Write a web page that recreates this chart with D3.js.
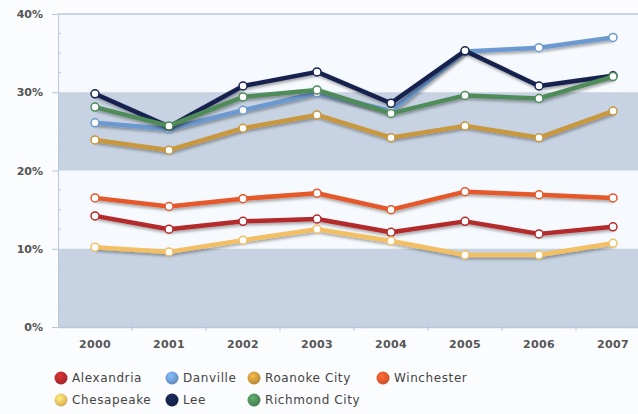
<!DOCTYPE html>
<html>
<head>
<meta charset="utf-8">
<script src="https://cdn.jsdelivr.net/npm/d3@7"></script>
<style>
  body { margin: 0; background: #fbfcfe; }
  text { font-family: "DejaVu Sans", Verdana, sans-serif; }
</style>
</head>
<body>
<div id="chart"></div>
<script>
// data
var years = ["2000", "2001", "2002", "2003", "2004", "2005", "2006", "2007"];
var cities = ["Alexandria", "Danville", "Roanoke City", "Winchester", "Chesapeake", "Lee", "Richmond City"];
var alexandria  = [14.2, 12.5, 13.5, 13.8, 12.1, 13.5, 11.9, 12.8];
var danville    = [26.1, 25.3, 27.7, 29.9, 27.6, 35.2, 35.7, 37.0];
var roanoke     = [23.9, 22.6, 25.4, 27.1, 24.2, 25.7, 24.2, 27.6];
var winchester  = [16.5, 15.4, 16.4, 17.1, 15.0, 17.3, 16.9, 16.5];
var chesapeake  = [10.2,  9.6, 11.1, 12.5, 11.0,  9.2,  9.2, 10.7];
var lee         = [29.8, 25.6, 30.8, 32.6, 28.6, 35.3, 30.8, 32.1];
var richmond    = [28.1, 25.7, 29.4, 30.3, 27.3, 29.6, 29.2, 32.0];
var yTicks = [0, 10, 20, 30, 40];

var seriesValues = [alexandria, danville, roanoke, winchester, chesapeake, lee, richmond];
var colors = ["#b3292b", "#6c9ad0", "#c9973c", "#e4582a", "#f2c064", "#16234d", "#4f8c5a"];

var width = 638, height = 414;
var plotLeft = 58, plotRight = 650, plotTop = 14, plotBottom = 327;

var svg = d3.select("#chart").append("svg")
    .attr("width", width)
    .attr("height", height);

var defs = svg.append("defs");
// schaduw onder de lijnen
var shadow = defs.append("filter").attr("id", "shadow")
    .attr("x", "-10%").attr("y", "-30%").attr("width", "120%").attr("height", "160%");
shadow.append("feDropShadow")
    .attr("dx", 1).attr("dy", 2).attr("stdDeviation", 1.4)
    .attr("flood-color", "#000").attr("flood-opacity", 0.35);

// bolletjes in de legenda met een beetje glans
colors.forEach(function(c, i) {
    var grad = defs.append("radialGradient").attr("id", "dot" + i)
        .attr("cx", "40%").attr("cy", "35%").attr("r", "65%");
    grad.append("stop").attr("offset", "0%").attr("stop-color", d3.color(c).brighter(0.6));
    grad.append("stop").attr("offset", "100%").attr("stop-color", d3.color(c).darker(0.3));
});

var x = d3.scaleBand().domain(years).range([plotLeft, plotRight]);
var y = d3.scaleLinear().domain([0, 40]).range([plotBottom, plotTop]);

// banden achter de grafiek
var plot = svg.append("g");
plot.append("rect")
    .attr("x", plotLeft).attr("y", plotTop)
    .attr("width", plotRight - plotLeft).attr("height", plotBottom - plotTop)
    .attr("fill", "#f6f9fd");
plot.selectAll(".band")
    .data(yTicks.slice(0, -1).filter(function(d, i) { return i % 2 === 0; }))
    .enter().append("rect")
    .attr("x", plotLeft)
    .attr("y", function(d) { return y(d + 10); })
    .attr("width", plotRight - plotLeft)
    .attr("height", function(d) { return y(d) - y(d + 10); })
    .attr("fill", "#c7d3e2");

// bovenste rasterlijn
plot.append("line")
    .attr("x1", plotLeft).attr("x2", plotRight)
    .attr("y1", y(40)).attr("y2", y(40))
    .attr("stroke", "#b9c8dc").attr("stroke-width", 1.5);

// y-as
var yAxis = svg.append("g")
    .attr("transform", "translate(" + plotLeft + ",0)")
    .call(d3.axisLeft(y).tickValues(yTicks).tickSize(6)
        .tickFormat(function(d) { return d + "%"; }));
yAxis.select(".domain").attr("stroke", "#b9c8dc");
yAxis.selectAll(".tick line").attr("stroke", "#b9c8dc");
yAxis.selectAll("text")
    .attr("x", -15)
    .attr("fill", "#555")
    .attr("font-size", 11)
    .attr("font-weight", "bold");

// kleine streepjes op de y-as
svg.append("g").selectAll("line")
    .data(d3.range(2.5, 40, 2.5).filter(function(d) { return d % 10 !== 0; }))
    .enter().append("line")
    .attr("x1", plotLeft).attr("x2", plotLeft + 3)
    .attr("y1", function(d) { return y(d); })
    .attr("y2", function(d) { return y(d); })
    .attr("stroke", "#b9c8dc");

// x-as
var xAxis = svg.append("g")
    .attr("transform", "translate(0," + plotBottom + ")")
    .call(d3.axisBottom(x).tickSize(0).tickPadding(13));
xAxis.select(".domain").attr("stroke", "#b9c8dc").attr("stroke-width", 1.5);
xAxis.selectAll("text")
    .attr("fill", "#555")
    .attr("font-size", 11)
    .attr("letter-spacing", 0.4)
    .attr("font-weight", "bold");
svg.append("g").selectAll("line")
    .data(years.slice(1))
    .enter().append("line")
    .attr("x1", function(d) { return x(d); })
    .attr("x2", function(d) { return x(d); })
    .attr("y1", plotBottom - 3).attr("y2", plotBottom + 4)
    .attr("stroke", "#b9c8dc");

// lijnen
var line = d3.line()
    .x(function(d, i) { return x(years[i]) + x.bandwidth() / 2; })
    .y(function(d) { return y(d); });

seriesValues.forEach(function(vals, k) {
    var g = svg.append("g");
    g.append("path")
        .attr("d", line(vals))
        .attr("fill", "none")
        .attr("stroke", colors[k])
        .attr("stroke-width", 4.5)
        .attr("stroke-linejoin", "round")
        .attr("filter", "url(#shadow)");
    g.selectAll("circle")
        .data(vals)
        .enter().append("circle")
        .attr("cx", function(d, i) { return x(years[i]) + x.bandwidth() / 2; })
        .attr("cy", function(d) { return y(d); })
        .attr("r", 4)
        .attr("fill", "#fff")
        .attr("stroke", colors[k])
        .attr("stroke-width", 1.5);
});

// legenda
var legendPos = [[61, 378], [172, 378], [254, 378], [383, 378], [61, 400], [172, 400], [254, 400]];
var legend = svg.append("g").selectAll("g")
    .data(cities)
    .enter().append("g")
    .attr("transform", function(d, i) { return "translate(" + legendPos[i][0] + "," + legendPos[i][1] + ")"; });
legend.append("circle")
    .attr("r", 6.5)
    .attr("fill", function(d, i) { return "url(#dot" + i + ")"; });
legend.append("text")
    .attr("x", 11)
    .attr("y", 4)
    .attr("fill", "#444")
    .attr("font-size", 12)
    .attr("letter-spacing", 0.6)
    .text(function(d) { return d; });
</script>
</body>
</html>
